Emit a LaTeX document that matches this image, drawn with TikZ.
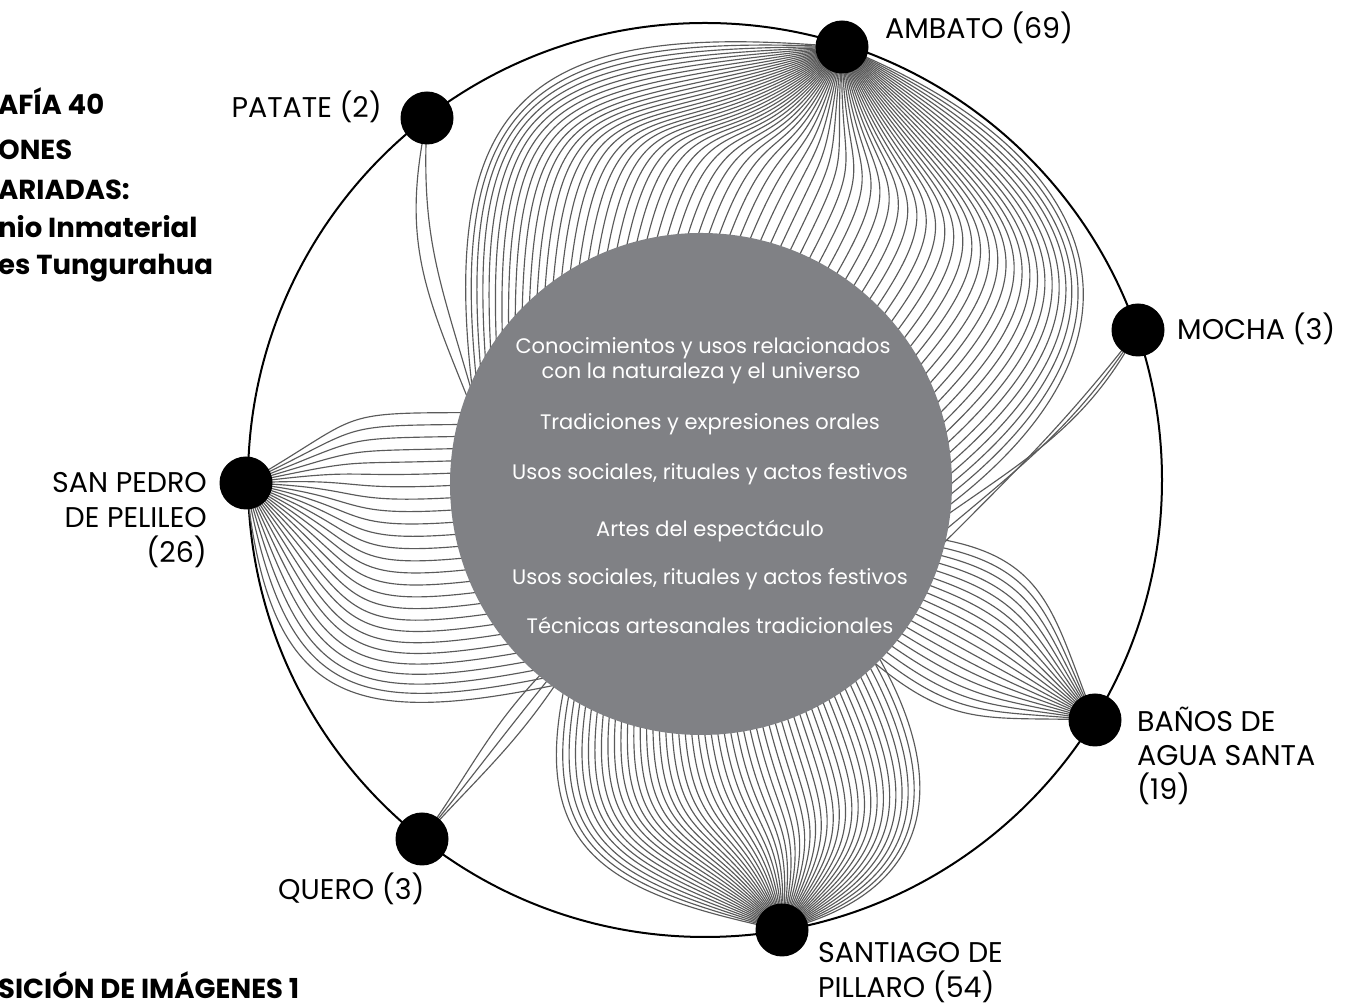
\documentclass[tikz,border=0pt]{standalone}
\usepackage{fontspec}
\setmainfont{Poppins}
\usetikzlibrary{calc}
\pgfdeclarelayer{bg}
\pgfsetlayers{bg,main}
\definecolor{disc}{RGB}{128,129,133}
\definecolor{fanc}{RGB}{90,90,90}
\tikzset{
  fanline/.style={draw=fanc, line width=1.15pt},
  place/.style={circle, fill=black, minimum size=53pt, inner sep=0pt},
  lab/.style={font=\fontsize{28.5}{34}\selectfont, inner sep=0pt},
  cat/.style={font=\fontsize{21}{25}\selectfont, text=white, inner sep=0pt, anchor=base},
  ttl/.style={font=\fontsize{27.5}{32}\selectfont\bfseries, inner sep=0pt, anchor=base west},
  ring/.style={draw=black, line width=2pt},
}
% #1 node, #2 count, #3/#4 out angles, #5/#6 end angles on disc, #7/#8 in angles, #9 looseness
\newcommand\drawfan[9]{%
  \pgfmathtruncatemacro\fanlast{#2-1}%
  \foreach \k in {0,...,\fanlast}{%
    \pgfmathsetmacro\fant{\k/\fanlast}%
    \pgfmathsetmacro\fano{#3+\fant*(#4-#3)}%
    \pgfmathsetmacro\fane{#5+\fant*(#6-#5)}%
    \pgfmathsetmacro\fani{#7+\fant*(#8-#7)}%
    \draw[fanline] (#1.center) to[out=\fano, in=\fani, looseness=#9] ($(Gc)+(\fane:244)$);
  }%
}
\begin{document}
\begin{tikzpicture}[x=1pt,y=1pt]
\useasboundingbox (0,0) rectangle (1347,1008);
\coordinate (Gc) at (701,524);
\coordinate (Oc) at (705,528);
% places
\node[place] (amb) at (842,961) {};
\node[place] (pat) at (427,890) {};
\node[place] (moc) at (1138,678) {};
\node[place] (spp) at (246,525) {};
\node[place] (ban) at (1095,288) {};
\node[place] (que) at (422,169) {};
\node[place] (san) at (782,78) {};
\begin{pgfonlayer}{bg}
  \draw[ring] (Oc) circle[radius=457];
  \drawfan{amb}{69}{175}{338}{159}{-6}{97}{37}{1.55}
  \drawfan{pat}{2}{-102}{-93}{161}{159}{112}{106}{1.1}
  \drawfan{moc}{3}{-128}{-118}{-16}{-8}{45}{35}{1}
  \drawfan{spp}{26}{30}{-84}{163}{235}{180}{192}{1.5}
  \drawfan{ban}{19}{112}{178}{-13}{-46}{-10}{-40}{1.2}
  \drawfan{que}{3}{48}{54}{234}{230}{236}{226}{1}
  \drawfan{san}{54}{168}{14}{236}{316}{258}{300}{1.35}
  \node[circle, fill=disc, minimum size=502pt, inner sep=0pt] (G) at (Gc) {};
\end{pgfonlayer}
% category texts
\node[cat] (c1) at (703,654) {Conocimientos y usos relacionados};
\node[cat] (c2) at (701,629) {con la naturaleza y el universo};
\node[cat] (c3) at (710,578) {Tradiciones y expresiones orales};
\node[cat] (c4) at (710,528) {Usos sociales, rituales y actos festivos};
\node[cat] (c5) at (710,471) {Artes del espectáculo};
\node[cat] (c6) at (710,423) {Usos sociales, rituales y actos festivos};
\node[cat] (c7) at (710,374) {Técnicas artesanales tradicionales};
% labels
\node[lab, anchor=base west] (lamb) at (885,969) {AMBATO (69)};
\node[lab, anchor=base east] (lpat) at (382,890) {PATATE (2)};
\node[lab, anchor=base west] (lmoc) at (1177,668) {MOCHA (3)};
\node[lab, anchor=base east] (lsp1) at (207,515) {SAN PEDRO};
\node[lab, anchor=base east] (lsp2) at (207,480) {DE PELILEO};
\node[lab, anchor=base east] (lsp3) at (207,445) {(26)};
\node[lab, anchor=base west] (lban1) at (1137,276) {BAÑOS DE};
\node[lab, anchor=base west] (lban2) at (1137,242) {AGUA SANTA};
\node[lab, anchor=base west] (lban3) at (1137,208) {(19)};
\node[lab, anchor=base west] (lque) at (278,108) {QUERO (3)};
\node[lab, anchor=base west] (lsan1) at (818,45) {SANTIAGO DE};
\node[lab, anchor=base west] (lsan2) at (818,10) {PILLARO (54)};
% title fragments
\node[ttl] (t1) at (-2,893) {AFÍA 40};
\node[ttl] (t2) at (-2,848) {ONES};
\node[ttl] (t3) at (-2,808) {ARIADAS:};
\node[ttl] (t4) at (-2,770) {nio Inmaterial};
\node[ttl] (t5) at (-2,733) {es Tungurahua};
\node[ttl] (t6) at (-2,9) {SICIÓN DE IMÁGENES 1};
\end{tikzpicture}
\end{document}
